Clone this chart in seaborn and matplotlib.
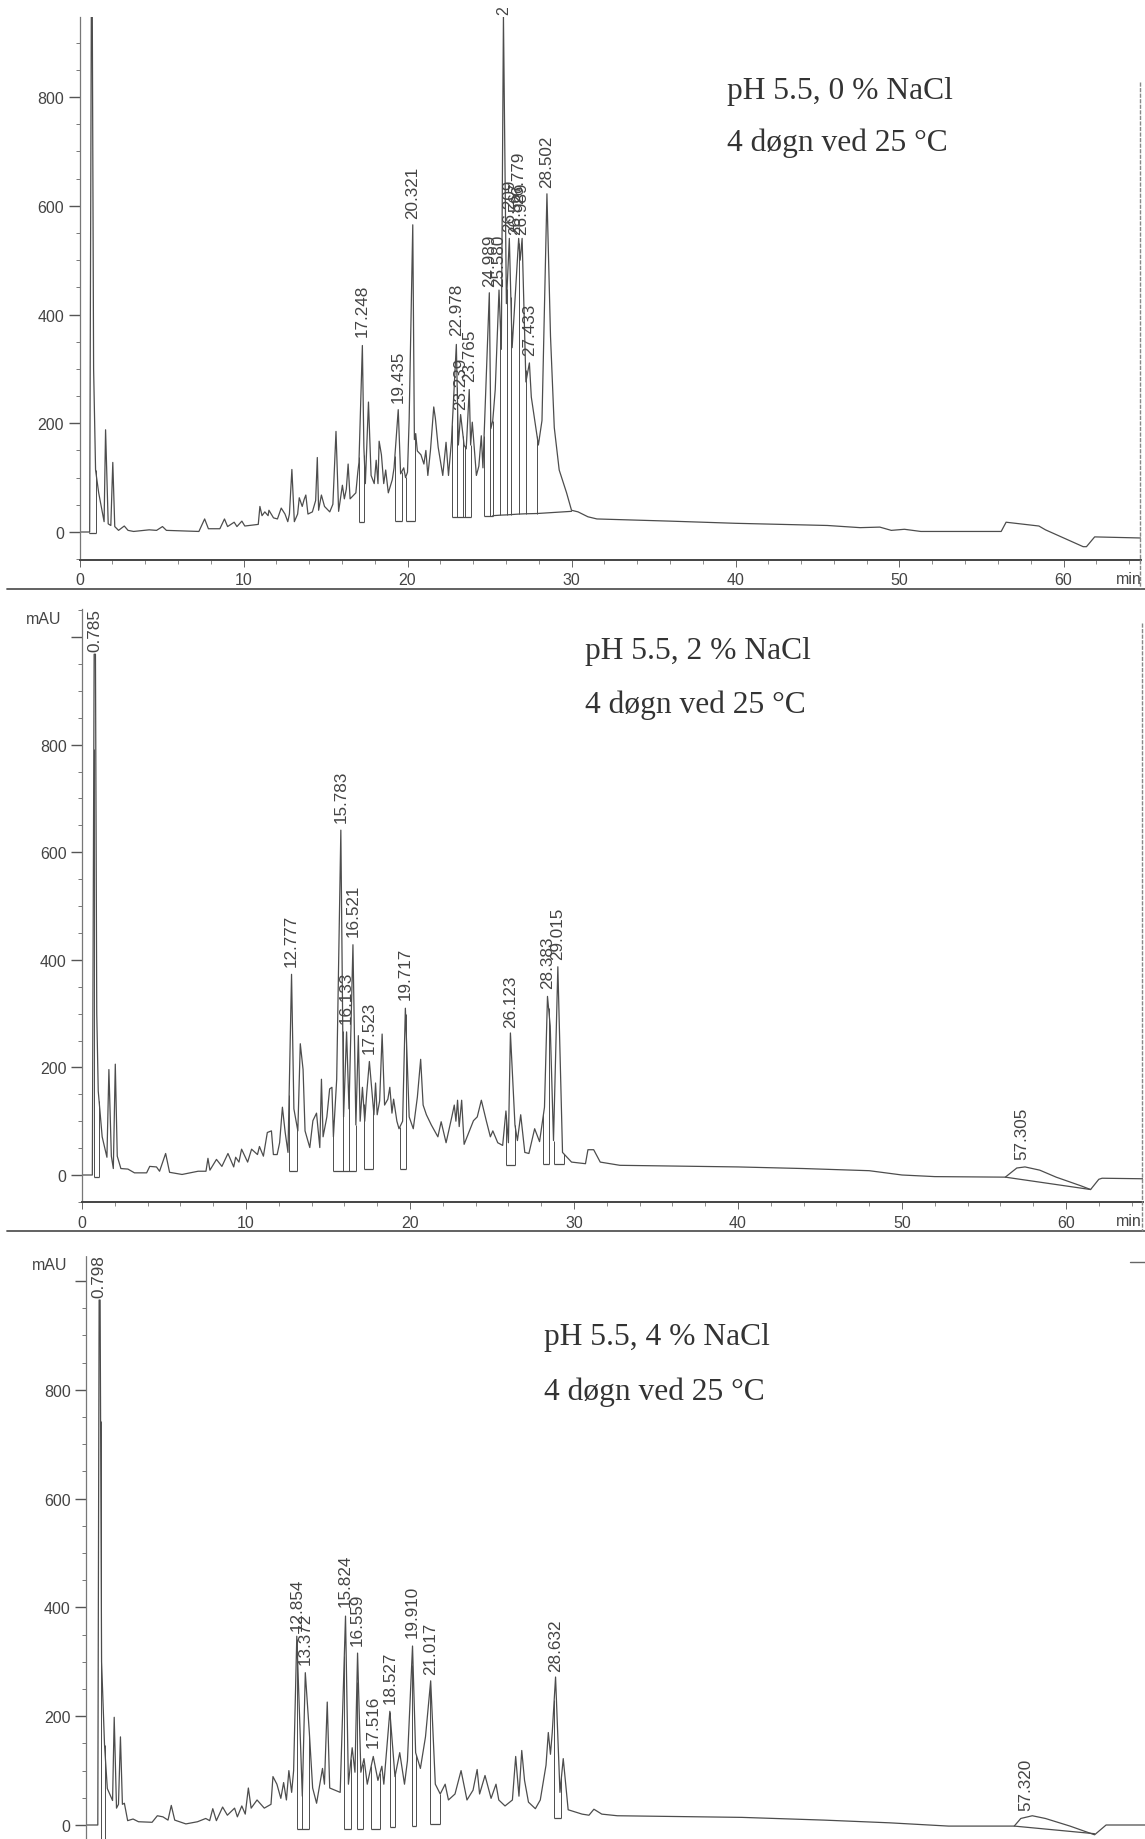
import numpy as np
import seaborn as sns
import matplotlib.pyplot as plt
from matplotlib.lines import Line2D
from matplotlib.ticker import MultipleLocator

# ---------------------------------------------------------
# 1. DATA
# ---------------------------------------------------------
t_0 = [0, 0.62, 0.72, 0.78, 0.86, 0.98, 1.17, 1.5, 1.59, 1.75, 1.91, 2.03, 2.15, 2.38, 2.73, 2.96, 3.3, 4.25, 4.7,
       5.06, 5.3, 7.28, 7.63, 7.86, 8.56, 8.84, 9.03, 9.43, 9.6, 9.9, 10.08, 10.9, 11.0, 11.13, 11.3, 11.5, 11.55,
       11.83, 12.07, 12.3, 12.53, 12.7, 12.8, 12.95, 13.1, 13.3, 13.4, 13.58, 13.7, 13.8, 13.93, 14.2, 14.4, 14.5,
       14.58, 14.75, 14.94, 15.26, 15.45, 15.64, 15.8, 16.03, 16.15, 16.27, 16.38, 16.5, 16.85, 16.97, 17.04, 17.248,
       17.34, 17.43, 17.62, 17.78, 17.97, 18.09, 18.2, 18.27, 18.41, 18.55, 18.67, 18.83, 19.07, 19.18, 19.435, 19.58,
       19.77, 19.88, 20.0, 20.1, 20.321, 20.42, 20.5, 20.6, 20.82, 21.0, 21.12, 21.24, 21.4, 21.6, 21.7, 21.87, 22.15,
       22.35, 22.5, 22.68, 22.978, 23.1, 23.239, 23.45, 23.58, 23.765, 23.85, 23.95, 24.2, 24.35, 24.5, 24.6, 24.7,
       24.989, 25.08, 25.2, 25.35, 25.58, 25.72, 25.85, 26.03, 26.209, 26.38, 26.779, 26.87, 26.989, 27.22, 27.433,
       27.55, 27.98, 28.2, 28.502, 28.72, 28.95, 29.25, 29.7, 30.0, 30.4, 31.0, 31.55, 36, 40, 45.6, 47.6, 48.8, 49.5,
       50.3, 51.3, 56.2, 56.5, 58.5, 58.9, 61.2, 61.4, 61.9, 64.7]
y_0 = [0, 0, 950, 950, 300, 114, 72, 19, 188, 15, 12, 128, 10, 3, 11, 3, 1, 4, 3, 10, 3, 1, 24, 6, 6, 24, 10, 18, 10,
       20, 11, 14, 47, 30, 37, 30, 40, 26, 24, 44, 33, 19, 33, 115, 19, 33, 63, 47, 60, 68, 33, 37, 58, 137, 40, 68,
       47, 37, 51, 185, 38, 86, 61, 79, 125, 61, 72, 110, 128, 343, 156, 89, 239, 104, 89, 132, 89, 167, 142, 89, 114,
       72, 96, 118, 225, 107, 118, 100, 110, 206, 565, 170, 181, 149, 142, 125, 150, 104, 150, 230, 209, 156, 104,
       165, 104, 167, 345, 160, 216, 160, 153, 262, 160, 202, 104, 121, 177, 118, 202, 440, 190, 205, 262, 445, 336,
       949, 420, 540, 339, 540, 500, 540, 276, 311, 248, 160, 205, 622, 360, 192, 114, 72, 40, 37, 28, 24, 20, 16, 12,
       8, 9, 3, 5, 1, 1, 18, 11, 4, -27, -27, -9, -11]
labels_0 = ['17.248', '19.435', '20.321', '22.978', '23.239', '23.765', '24.989', '25.580', '26.209', '26.567',
            '26.779', '26.989', '27.433', '28.502']
label_t_0 = [17.248, 19.435, 20.321, 22.978, 23.239, 23.765, 24.989, 25.58, 26.209, 26.567, 26.779, 26.989, 27.433,
             28.502]
label_y_0 = [360, 239, 577, 362, 227, 277, 452, 452, 554, 549, 605, 549, 325, 635]
base_l_0 = [0.6, 17.05, 19.23, 19.9, 22.73, 24.67]
base_r_0 = [0.98, 17.36, 19.65, 20.47, 23.85, 25.2]
base_y_0 = [-1, 19, 21, 21, 28, 30]
drops_0 = [[0.6, 0.98], [17.05, 17.36], [19.23, 19.65], [19.9, 20.47], [22.73, 23.03, 23.39, 23.5, 23.85],
           [24.67, 25.06, 25.2]]
slant_t_0 = [25.2, 25.67, 26.07, 26.3, 26.8, 27.2, 27.9, 30.0]
slant_y_0 = [30, 31, 31.5, 32, 33, 33.5, 34, 38]

t_2 = [0, 0.63, 0.74, 0.82, 0.9, 0.99, 1.23, 1.52, 1.64, 1.79, 1.91, 2.03, 2.15, 2.37, 2.8, 3.2, 3.94, 4.13, 4.54,
       4.73, 5.1, 5.34, 6.1, 7.08, 7.56, 7.68, 7.8, 8.2, 8.53, 8.9, 9.25, 9.37, 9.57, 9.73, 10.1, 10.34, 10.7, 10.82,
       11.06, 11.3, 11.55, 11.67, 11.9, 12.05, 12.22, 12.39, 12.56, 12.777, 12.92, 13.16, 13.31, 13.48, 13.6, 13.89,
       14.08, 14.3, 14.5, 14.6, 14.7, 14.93, 15.1, 15.24, 15.33, 15.53, 15.783, 15.95, 16.133, 16.28, 16.521, 16.7,
       16.85, 16.96, 17.1, 17.24, 17.36, 17.523, 17.8, 17.9, 18.0, 18.15, 18.3, 18.45, 18.65, 18.77, 18.9, 19.0, 19.2,
       19.33, 19.55, 19.717, 19.95, 20.2, 20.45, 20.65, 20.8, 21.0, 21.3, 21.7, 21.9, 22.2, 22.55, 22.7, 22.8, 22.9,
       23.0, 23.15, 23.3, 23.87, 24.1, 24.35, 24.65, 24.9, 25.05, 25.35, 25.65, 25.85, 26.0, 26.123, 26.4, 26.55,
       26.75, 27.0, 27.25, 27.6, 27.9, 28.2, 28.383, 28.55, 28.75, 29.015, 29.3, 29.85, 30.7, 30.85, 31.2, 31.6, 32.8,
       40, 44, 48, 49.5, 50, 52, 56.3, 57, 57.5, 58.4, 59.4, 60.9, 61.5, 62, 62.2, 64.7]
y_2 = [0, 0, 968, 968, 300, 156, 71, 33, 196, 35, 12, 206, 35, 12, 11, 4, 4, 16, 15, 7, 40, 5, 1, 7, 7, 31, 9, 29, 16,
       40, 15, 33, 24, 48, 24, 48, 38, 53, 35, 79, 82, 38, 38, 60, 126, 79, 42, 373, 123, 82, 244, 196, 82, 51, 101,
       115, 51, 178, 71, 108, 160, 163, 71, 178, 641, 108, 266, 123, 428, 93, 259, 100, 163, 100, 152, 211, 112, 171,
       112, 138, 262, 130, 141, 163, 115, 141, 100, 86, 100, 310, 108, 86, 145, 215, 130, 112, 93, 71, 99, 60, 108,
       130, 100, 139, 90, 139, 57, 101, 108, 139, 101, 71, 82, 60, 55, 119, 60, 264, 93, 64, 112, 42, 40, 86, 62, 126,
       332, 277, 64, 387, 42, 24, 21, 47, 47, 24, 18, 15, 12, 8, 2, 0, -3, -4, 13, 15, 9, -4, -20, -27, -8, -6, -7]
labels_2 = ['0.785', '12.777', '15.783', '16.133', '16.521', '17.523', '19.717', '26.123', '28.383', '29.015', '57.305']
label_t_2 = [0.785, 12.777, 15.783, 16.133, 16.521, 17.523, 19.717, 26.123, 28.383, 29.015, 57.305]
label_y_2 = [974, 389, 656, 283, 444, 226, 327, 276, 347, 401, 30]
base_l_2 = [0.72, 12.63, 15.3, 17.17, 19.38, 25.87, 28.14, 28.75]
base_r_2 = [1.04, 13.1, 16.7, 17.75, 19.73, 26.4, 28.45, 29.4]
base_y_2 = [-4, 8, 8, 11, 12, 18, 20, 20]
drops_2 = [[0.72, 1.04], [12.63, 13.1], [15.3, 15.9, 16.25, 16.7], [17.17, 17.75], [19.38, 19.73], [25.87, 26.4],
           [28.14, 28.45], [28.75, 29.4]]
slant_t_2 = [56.3, 61.5]
slant_y_2 = [-4, -27]

t_4 = [0, 0.72, 0.8, 0.86, 0.95, 1.13, 1.3, 1.62, 1.72, 1.86, 1.98, 2.1, 2.22, 2.34, 2.54, 2.87, 3.2, 4.03, 4.35, 4.69,
       5.0, 5.2, 5.41, 6.09, 6.8, 7.3, 7.54, 7.73, 7.95, 8.33, 8.62, 9.06, 9.23, 9.5, 9.71, 9.9, 10.07, 10.43, 10.87,
       11.28, 11.4, 11.64, 11.88, 12.05, 12.22, 12.37, 12.54, 12.66, 12.854, 13.19, 13.372, 13.62, 13.82, 14.06, 14.42,
       14.54, 14.71, 14.86, 15.5, 15.824, 16.0, 16.23, 16.4, 16.559, 16.76, 16.95, 17.15, 17.516, 17.8, 18.04, 18.16,
       18.527, 18.84, 19.13, 19.42, 19.6, 19.91, 20.1, 20.39, 20.7, 21.017, 21.3, 21.6, 21.9, 22.1, 22.5, 22.87, 23.23,
       23.6, 23.85, 24.0, 24.33, 24.7, 25.0, 25.17, 25.55, 26.0, 26.2, 26.4, 26.57, 26.74, 26.98, 27.4, 27.7, 28.05,
       28.19, 28.32, 28.43, 28.632, 28.9, 29.1, 29.4, 30.25, 30.67, 30.97, 31.45, 32.4, 40, 45, 49, 52.6, 56.6, 57,
       57.7, 58.5, 60, 61.5, 62.2, 64.7]
y_4 = [0, 0, 965, 965, 300, 147, 67, 45, 198, 31, 38, 162, 38, 40, 8, 11, 6, 5, 17, 15, 9, 36, 9, 2, 6, 12, 8, 30, 8,
       33, 18, 31, 15, 35, 20, 68, 31, 46, 31, 38, 89, 75, 49, 78, 46, 100, 60, 100, 347, 53, 280, 169, 68, 40, 104,
       75, 226, 68, 60, 384, 75, 142, 97, 316, 97, 122, 75, 126, 82, 108, 75, 209, 89, 133, 75, 118, 329, 133, 104,
       162, 265, 75, 57, 75, 46, 57, 100, 46, 64, 102, 57, 91, 49, 75, 46, 35, 46, 126, 53, 137, 82, 42, 30, 46, 110,
       170, 130, 170, 272, 60, 122, 28, 20, 18, 29, 20, 17, 14, 9, 4, -2, -2, 12, 17, 12, -2, -18, 0, 0]
labels_4 = ['0.798', '12.854', '13.372', '15.824', '16.559', '17.516', '18.527', '19.910', '21.017', '28.632', '57.320']
label_t_4 = [0.798, 12.854, 13.372, 15.824, 16.559, 17.516, 18.527, 19.91, 21.017, 28.632, 57.32]
label_y_4 = [970, 358, 296, 402, 331, 144, 224, 345, 278, 284, 27]
base_l_4 = [0.89, 12.85, 15.75, 16.52, 17.39, 18.53, 19.86, 20.99, 28.55]
base_r_4 = [1.13, 13.62, 16.16, 16.88, 17.92, 18.82, 20.14, 21.6, 28.99]
base_y_4 = [-40, -8, -8, -8, -8, -3, -1, 1, 13]
drops_4 = [[0.89, 1.13], [12.85, 13.2, 13.62], [15.75, 16.16], [16.52, 16.88], [17.39, 17.92], [18.53, 18.82],
           [19.86, 20.14], [20.99, 21.6], [28.55, 28.99]]
slant_t_4 = [56.6, 61.5]
slant_y_4 = [-2, -16]

y_ticks = [0, 200, 400, 600, 800, 1000]
y_tick_labels = ['0', '200', '400', '600', '800', '']
x_ticks = [0, 10, 20, 30, 40, 50, 60]
notes = ['pH 5.5, 0 % NaCl', 'pH 5.5, 2 % NaCl', 'pH 5.5, 4 % NaCl']
note2 = '4 døgn ved 25 °C'

# ---------------------------------------------------------
# 2. SETUP
# ---------------------------------------------------------
W, H = 1145, 1840
INK = '#4d4d4d'
sns.set_theme(style="white")
plt.rcParams['font.family'] = ['Liberation Sans', 'DejaVu Sans']
fig = plt.figure(figsize=(W / 100, H / 100), dpi=100)


def make_axes(x0, y0, y_top, y_axis, x_end=64.7, px_x=16.4, px_y=0.54):
    # x0 / y0: pixel of t=0 and of 0 mAU, y_top / y_axis: pixel of top and bottom of the axis
    ax = fig.add_axes([x0 / W, 1 - y_axis / H, x_end * px_x / W, (y_axis - y_top) / H])
    ax.set_xlim(0, x_end)
    ax.set_ylim((y0 - y_axis) / px_y, (y0 - y_top) / px_y)
    ax.patch.set_alpha(0)
    for side in ['top', 'right']:
        ax.spines[side].set_visible(False)
    ax.spines['left'].set_color('#777777')
    ax.spines['left'].set_linewidth(0.9)
    ax.spines['left'].set_linestyle((0, (3, 1)))
    ax.spines['bottom'].set_color('#444444')
    ax.spines['bottom'].set_linewidth(1.4)
    ticks = [v for v in y_ticks if v <= ax.get_ylim()[1]]
    ax.set_yticks(ticks)
    ax.set_yticklabels(y_tick_labels[:len(ticks)])
    ax.yaxis.set_minor_locator(MultipleLocator(50))
    ax.set_xticks(x_ticks)
    ax.xaxis.set_minor_locator(MultipleLocator(2))
    ax.tick_params(axis='y', which='major', left=True, length=8, width=1, color='#555555', labelsize=11.5,
                   labelcolor='#444444', pad=3)
    ax.tick_params(axis='y', which='minor', left=True, length=3, width=0.7, color='#777777')
    ax.tick_params(axis='x', which='major', bottom=True, length=5, width=0.7, color='#666666', labelsize=11.5,
                   labelcolor='#444444', pad=4)
    ax.tick_params(axis='x', which='minor', bottom=True, length=3, width=0.6, color='#777777')
    return ax


def draw_panel(ax, t, y, labels, label_t, label_y, base_l, base_r, base_y, drops, slant_t, slant_y):
    sns.lineplot(x=t, y=y, ax=ax, sort=False, estimator=None, color=INK, linewidth=0.9, clip_on=True)
    ax.hlines(base_y, base_l, base_r, color=INK, linewidth=0.9)
    for xs, b in zip(drops, base_y):
        ax.vlines(xs, b, np.interp(xs, t, y), color=INK, linewidth=0.7)
    ax.plot(slant_t, slant_y, color=INK, linewidth=0.9)
    ax.vlines(slant_t[1:-1], slant_y[1:-1], np.interp(slant_t[1:-1], t, y), color=INK, linewidth=0.7)
    for text, lx, ly in zip(labels, label_t, label_y):
        ax.text(lx, ly, text, rotation=90, ha='center', va='bottom', fontsize=12.3, color='#444444', clip_on=False)
    ax.set_xlabel('')
    ax.set_ylabel('')


def sheet_line(x1, y1, x2, y2, **kw):
    fig.add_artist(Line2D([x1 / W, x2 / W], [1 - y1 / H, 1 - y2 / H], **kw))


def sheet_text(x, y, text, **kw):
    fig.text(x / W, 1 - y / H, text, **kw)


# ---------------------------------------------------------
# 3. PANELS
# ---------------------------------------------------------
ax0 = make_axes(79.5, 533, 18, 560.6, px_y=0.5437)
draw_panel(ax0, t_0, y_0, labels_0, label_t_0, label_y_0, base_l_0, base_r_0, base_y_0, drops_0, slant_t_0, slant_y_0)
ax0.text(25.85, 952, '2', rotation=90, ha='center', va='bottom', fontsize=11.5, color='#444444', clip_on=False)

ax2 = make_axes(82, 1176, 610, 1203, px_y=0.538)
draw_panel(ax2, t_2, y_2, labels_2, label_t_2, label_y_2, base_l_2, base_r_2, base_y_2, drops_2, slant_t_2, slant_y_2)

# the x axis of the last panel falls below the edge of the sheet
ax4 = make_axes(86, 1826, 1255.6, 1853, px_y=0.544)
ax4.tick_params(axis='x', which='both', labelbottom=False)
draw_panel(ax4, t_4, y_4, labels_4, label_t_4, label_y_4, base_l_4, base_r_4, base_y_4, drops_4, slant_t_4, slant_y_4)

for y_min, y_sep in [(580, 589.5), (1222, 1232)]:
    sheet_text(1142, y_min, 'min', ha='right', va='center', fontsize=11.5, color='#444444')
    sheet_line(7, y_sep, W, y_sep, color='#555555', linewidth=1.3)

sheet_line(1139.5, 83, 1139.5, 589, color='#888888', linewidth=1, linestyle=(0, (3, 1)))
sheet_line(1142, 624, 1142, 1232, color='#888888', linewidth=1, linestyle=(0, (3, 1)))
sheet_line(1130, 1263, W, 1263, color='#666666', linewidth=1)

# ---------------------------------------------------------
# 4. TEXT ON THE SHEET
# ---------------------------------------------------------
for note, x, y1, y2 in zip(notes, [727, 585, 544], [92, 652, 1338], [143, 705, 1392]):
    sheet_text(x, y1, note, family='Liberation Serif', fontsize=22.7, color='#333333', va='center')
    sheet_text(x, y2, note2, family='Liberation Serif', fontsize=22.7, color='#333333', va='center')

sheet_text(26, 620, 'mAU', fontsize=11.5, color='#444444', va='center')
sheet_text(32, 1265, 'mAU', fontsize=11.5, color='#444444', va='center')

fig.savefig('out.png', dpi=100)
